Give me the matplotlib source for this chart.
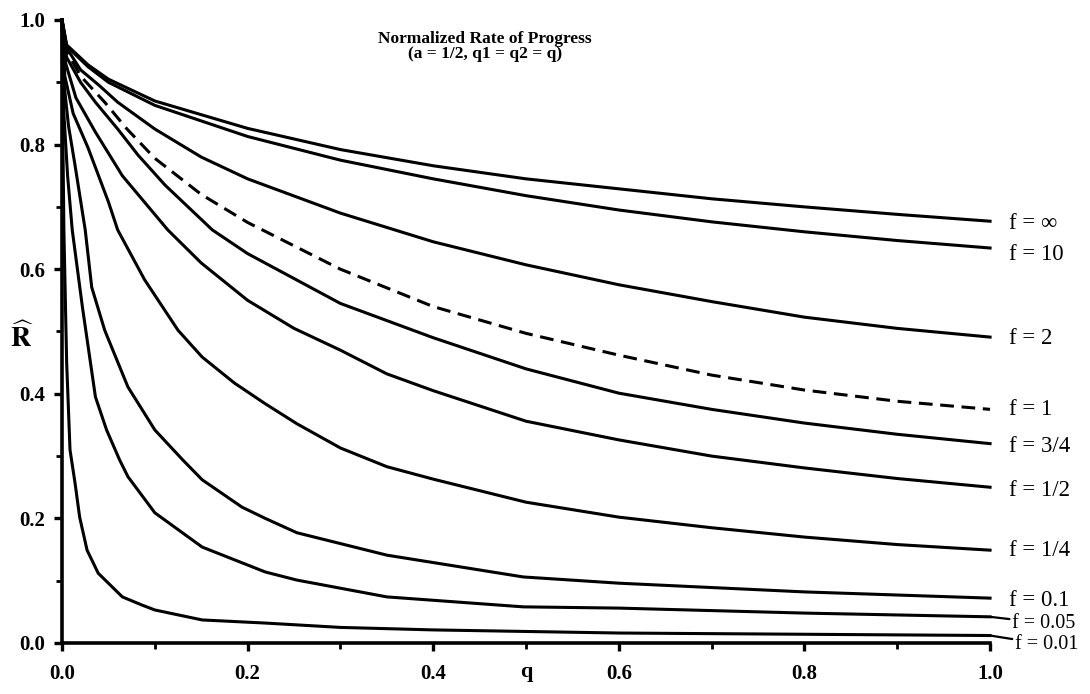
import numpy as np
import matplotlib
matplotlib.use("Agg")
import matplotlib.pyplot as plt

plt.rcParams['font.family'] = ['Liberation Serif', 'DejaVu Serif']
plt.rcParams['mathtext.fontset'] = 'stix'

# curves, one per f value
q_inf = [0, 0.005, 0.028, 0.05, 0.1, 0.2, 0.3, 0.4, 0.5, 0.6, 0.7, 0.8, 0.9, 1.0]
r_inf = [1.0, 0.96, 0.928, 0.905, 0.87, 0.826, 0.792, 0.766, 0.745, 0.729, 0.713, 0.70, 0.688, 0.677]

q_10 = [0, 0.005, 0.028, 0.05, 0.1, 0.2, 0.3, 0.4, 0.5, 0.6, 0.7, 0.8, 0.9, 1.0]
r_10 = [1.0, 0.958, 0.925, 0.90, 0.863, 0.813, 0.775, 0.745, 0.718, 0.695, 0.676, 0.66, 0.646, 0.634]

q_2 = [0, 0.005, 0.02, 0.04, 0.06, 0.1, 0.15, 0.2, 0.3, 0.4, 0.5, 0.6, 0.7, 0.8, 0.9, 1.0]
r_2 = [1.0, 0.955, 0.92, 0.895, 0.868, 0.825, 0.78, 0.745, 0.69, 0.644, 0.607, 0.575, 0.548, 0.523, 0.505, 0.491]

q_1 = [0, 0.005, 0.02, 0.046, 0.07, 0.1, 0.15, 0.2, 0.3, 0.4, 0.5, 0.6, 0.7, 0.8, 0.9, 1.0]
r_1 = [1.0, 0.95, 0.91, 0.868, 0.825, 0.778, 0.72, 0.675, 0.6, 0.54, 0.497, 0.462, 0.43, 0.406, 0.388, 0.375]

q_34 = [0, 0.005, 0.02, 0.036, 0.06, 0.082, 0.111, 0.162, 0.2, 0.3, 0.4, 0.5, 0.6, 0.7, 0.8, 0.9, 1.0]
r_34 = [1.0, 0.94, 0.9, 0.868, 0.825, 0.783, 0.735, 0.663, 0.625, 0.545, 0.49, 0.44, 0.401, 0.375, 0.353, 0.335, 0.32]

q_12 = [0, 0.004, 0.015, 0.036, 0.065, 0.114, 0.15, 0.2, 0.25, 0.3, 0.35, 0.4, 0.5, 0.6, 0.7, 0.8, 0.9, 1.0]
r_12 = [1.0, 0.93, 0.875, 0.82, 0.75, 0.663, 0.61, 0.55, 0.505, 0.47, 0.432, 0.405, 0.356, 0.326, 0.30, 0.281, 0.264, 0.25]

q_14 = [0, 0.003, 0.012, 0.028, 0.05, 0.06, 0.089, 0.125, 0.151, 0.186, 0.219, 0.253, 0.3, 0.35, 0.4, 0.5, 0.6, 0.7, 0.8, 0.9, 1.0]
r_14 = [1.0, 0.91, 0.85, 0.795, 0.708, 0.663, 0.583, 0.502, 0.459, 0.417, 0.384, 0.352, 0.313, 0.283, 0.263, 0.226, 0.202, 0.185, 0.17, 0.158, 0.149]

q_01 = [0, 0.002, 0.007, 0.014, 0.025, 0.032, 0.046, 0.071, 0.1, 0.13, 0.151, 0.194, 0.219, 0.253, 0.35, 0.497, 0.6, 0.8, 1.0]
r_01 = [1.0, 0.9, 0.83, 0.767, 0.663, 0.571, 0.502, 0.411, 0.342, 0.294, 0.262, 0.218, 0.20, 0.177, 0.141, 0.106, 0.096, 0.082, 0.072]

q_005 = [0, 0.002, 0.006, 0.011, 0.022, 0.036, 0.048, 0.062, 0.071, 0.1, 0.151, 0.219, 0.253, 0.35, 0.497, 0.6, 0.8, 1.0]
r_005 = [1.0, 0.85, 0.75, 0.663, 0.539, 0.395, 0.342, 0.294, 0.267, 0.209, 0.154, 0.114, 0.101, 0.074, 0.058, 0.056, 0.048, 0.042]

q_001 = [0, 0.001, 0.002, 0.005, 0.0086, 0.014, 0.019, 0.027, 0.039, 0.065, 0.086, 0.1, 0.151, 0.219, 0.3, 0.4, 0.6, 0.8, 1.0]
r_001 = [1.0, 0.8, 0.663, 0.45, 0.31, 0.257, 0.202, 0.149, 0.112, 0.074, 0.061, 0.053, 0.037, 0.032, 0.025, 0.021, 0.016, 0.014, 0.012]

labels = ['f = \u221e', 'f = 10', 'f = 2', 'f = 1', 'f = 3/4', 'f = 1/2',
          'f = 1/4', 'f = 0.1', 'f = 0.05', 'f = 0.01']

curves = [(q_inf, r_inf), (q_10, r_10), (q_2, r_2), (q_1, r_1), (q_34, r_34),
          (q_12, r_12), (q_14, r_14), (q_01, r_01), (q_005, r_005), (q_001, r_001)]

# label offsets (points) from the end of each line
offs = [(14, -2), (14, -5), (14, -1), (14, 0), (14, -2), (14, -2),
        (14, 0), (14, -1.5), (16, -4.5), (18, -6.5)]

fig = plt.figure(figsize=(10.9, 6.94), dpi=100)
ax = fig.add_axes([0.0569, 0.0735, 0.8514, 0.8977])

for i, (q, r) in enumerate(curves):
    if labels[i] == 'f = 1':
        ax.plot(q, r, color='black', lw=2.2, dashes=(4.5, 2.5), clip_on=False)
    else:
        ax.plot(q, r, color='black', lw=2.2, clip_on=False)
    small = labels[i] in ('f = 0.05', 'f = 0.01')
    ap = dict(arrowstyle='-', color='black', lw=1.6, shrinkA=0, shrinkB=1) if small else None
    ax.annotate(labels[i], xy=(q[-1], r[-1]), xytext=offs[i], textcoords='offset points',
                ha='left', va='center', fontsize=14.5 if small else 16.5,
                arrowprops=ap, annotation_clip=False)

ax.set_xlim(0, 1)
ax.set_ylim(0, 1)
ax.spines['top'].set_visible(False)
ax.spines['right'].set_visible(False)
for s in ['left', 'bottom']:
    ax.spines[s].set_linewidth(2.6)

ax.set_xticks(np.arange(0, 1.01, 0.2))
ax.set_yticks(np.arange(0, 1.01, 0.2))
ax.set_xticks(np.arange(0.1, 1.0, 0.2), minor=True)
ax.set_yticks(np.arange(0.1, 1.0, 0.2), minor=True)
ax.set_xticklabels(['0.0', '0.2', '0.4', '0.6', '0.8', '1.0'], fontweight='bold')
ax.set_yticklabels(['0.0', '0.2', '0.4', '0.6', '0.8', '1.0'], fontweight='bold')
ax.tick_params(which='major', length=6, width=2.4, labelsize=15, pad=6)
ax.tick_params(which='minor', length=4, width=2.0)
ax.tick_params(axis='x', which='major', pad=9)

ax.set_xlabel('q', fontsize=16, fontweight='bold')
ax.xaxis.set_label_coords(0.5, -0.03)
ax.set_ylabel(r'$\widehat{\mathbf{R}}$', fontsize=20, rotation=0, va='center')
ax.yaxis.set_label_coords(-0.043, 0.49)

ax.text(0.3405, 0.9695, 'Normalized Rate of Progress', transform=ax.transAxes,
        fontsize=12.5, fontweight='bold', ha='left', va='center')
ax.text(0.373, 0.945, '(a = 1/2, q1 = q2 = q)', transform=ax.transAxes,
        fontsize=12.5, fontweight='bold', ha='left', va='center')

fig.savefig('out.png', dpi=100)
